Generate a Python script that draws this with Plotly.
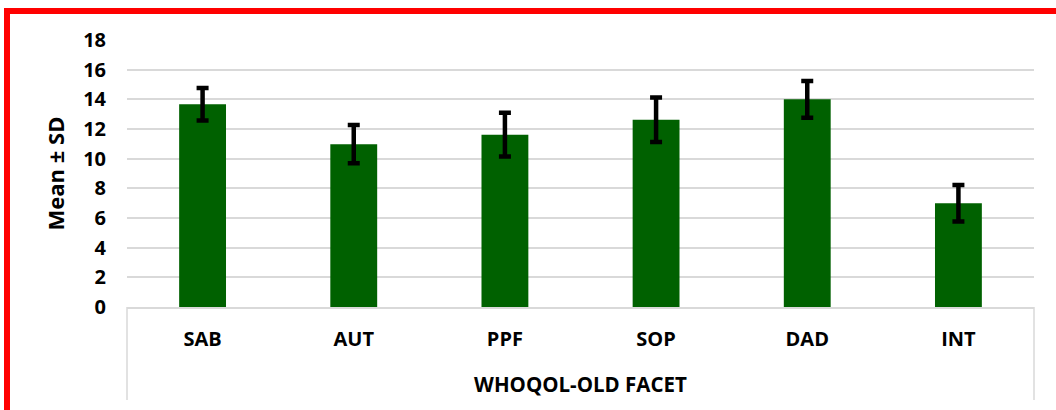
import plotly.graph_objects as go

# WHOQOL-OLD facet scores: mean and standard deviation per facet
facets = ["SAB", "AUT", "PPF", "SOP", "DAD", "INT"]
means = [13.67, 10.98, 11.62, 12.63, 14.0, 7.0]
sds = [1.1, 1.29, 1.47, 1.5, 1.24, 1.23]
y_ticks = [0, 2, 4, 6, 8, 10, 12, 14, 16, 18]

FONT = "Open Sans"
GRID = "#d9d9d9"

fig = go.Figure(
    go.Bar(
        x=facets,
        y=means,
        width=0.31,
        marker=dict(color="#006100", line=dict(width=0)),
        error_y=dict(type="data", array=sds, visible=True,
                     color="black", thickness=4.5, width=6),
    )
)

W, H = 1056, 410
ml, mr, mt, mb = 127, 22, 40, 103
pw, ph = W - ml - mr, H - mt - mb


def px_x(p):
    return (p - ml) / pw


def px_y(p):
    return (H - mb - p) / ph


shapes = [
    # frame lines around the category band under the plot
    dict(type="line", xref="paper", yref="paper", x0=0, x1=0,
         y0=0, y1=px_y(400), line=dict(color=GRID, width=1.5)),
    dict(type="line", xref="paper", yref="paper", x0=1, x1=1,
         y0=0, y1=px_y(400), line=dict(color=GRID, width=1.5)),
    # red outer border (left and top)
    dict(type="line", xref="paper", yref="paper", x0=px_x(7), x1=px_x(7),
         y0=px_y(8), y1=px_y(420), line=dict(color="#ff0000", width=6)),
    dict(type="line", xref="paper", yref="paper", x0=px_x(4), x1=px_x(1070),
         y0=px_y(11), y1=px_y(11), line=dict(color="#ff0000", width=6)),
]

fig.update_layout(
    width=W,
    height=H,
    margin=dict(l=ml, r=mr, t=mt, b=mb),
    paper_bgcolor="white",
    plot_bgcolor="white",
    showlegend=False,
    bargap=0.69,
    font=dict(family=FONT, color="black"),
    shapes=shapes,
    xaxis=dict(
        showline=True, linecolor=GRID, linewidth=1.5,
        showgrid=False, ticks="",
        tickfont=dict(family=FONT, size=20, weight="bold"),
        ticklabelstandoff=13,
        title=dict(text="WHOQOL-OLD FACET",
                   font=dict(family=FONT, size=20.5, weight="bold"),
                   standoff=27),
    ),
    yaxis=dict(
        range=[0, 18],
        tickvals=y_ticks,
        ticktext=[str(v) for v in y_ticks],
        showgrid=True, gridcolor=GRID, gridwidth=1.5,
        zeroline=False, showline=False, ticks="",
        tickfont=dict(family=FONT, size=20, weight="bold"),
        ticklabelstandoff=20,
        title=dict(text="Mean ± SD",
                   font=dict(family=FONT, size=22, weight="bold"),
                   standoff=12),
    ),
)

fig.write_html("out.html")
